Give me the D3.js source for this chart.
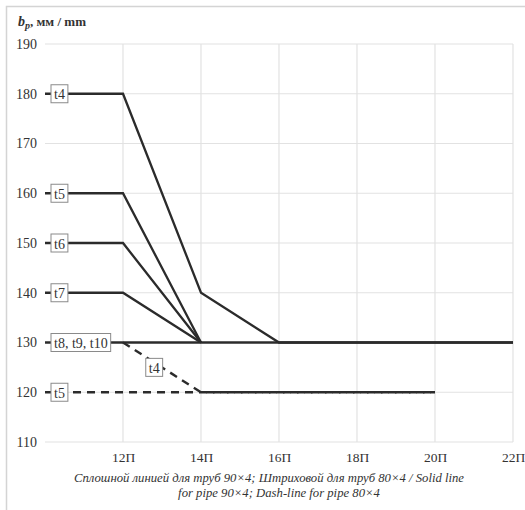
<!DOCTYPE html>
<html><head><meta charset="utf-8">
<script src="https://cdn.jsdelivr.net/npm/d3@7"></script>
<style>body{margin:0;background:#fff}svg{display:block}
svg text{font-family:"Liberation Serif","Times New Roman",serif}</style>
</head><body>
<svg id="c" width="525" height="510"></svg>
<script>
// ---- data ----
const xTickValues = [12, 14, 16, 18, 20, 22];
const xTickLabels = ["12П", "14П", "16П", "18П", "20П", "22П"];
const yTickValues = [110, 120, 130, 140, 150, 160, 170, 180, 190];

// solid series (pipe 90×4)
const t4SolidX = [10, 12, 14, 16, 22];
const t4SolidY = [180, 180, 140, 130, 130];
const t5SolidX = [10, 12, 14];
const t5SolidY = [160, 160, 130];
const t6SolidX = [10, 12, 14];
const t6SolidY = [150, 150, 130];
const t7SolidX = [10, 12, 14];
const t7SolidY = [140, 140, 130];
const t8SolidX = [10, 22];
const t8SolidY = [130, 130];
// dashed series (pipe 80×4)
const t4DashX = [12, 14, 20];
const t4DashY = [130, 120, 120];
const t5DashX = [10, 14, 20];
const t5DashY = [120, 120, 120];

const labelTexts = ["t4", "t5", "t6", "t7", "t8, t9, t10", "t4", "t5"];
const labelX = [10, 10, 10, 10, 10, 12.8, 10];
const labelY = [180, 160, 150, 140, 130, 125, 120];
const labelAnchorStart = [true, true, true, true, true, false, true];

const yTitle = "мм / mm";
const caption1 = "Сплошной линией для труб 90×4; Штриховой для труб 80×4 / Solid line";
const caption2 = "for pipe 90×4; Dash-line for pipe 80×4";

// ---- chart ----
const svg = d3.select("#c");
const L = 45, R = 513, T = 44, B = 442;
const x = d3.scaleLinear().domain([10, 22]).range([L, R]);
const y = d3.scaleLinear().domain([110, 190]).range([B, T]);
const serif = '"Liberation Serif","Times New Roman",serif';
const txtCol = "#333";

// outer border
svg.append("rect").attr("x", 6.5).attr("y", 6.5).attr("width", 540).attr("height", 540)
  .attr("fill", "none").attr("stroke", "#d4d4d4").attr("stroke-width", 1.5);

// grid
const g = svg.append("g");
g.selectAll("line.h").data(yTickValues).join("line")
  .attr("x1", L).attr("x2", R).attr("y1", d => y(d)).attr("y2", d => y(d))
  .attr("stroke", "#e2e2e2").attr("stroke-width", 1.2);
g.selectAll("line.v").data(xTickValues).join("line")
  .attr("x1", d => x(d)).attr("x2", d => x(d)).attr("y1", T).attr("y2", B)
  .attr("stroke", "#e2e2e2").attr("stroke-width", 1.2);

// axes (text only)
const yAxis = d3.axisLeft(y).tickValues(yTickValues).tickSize(0).tickPadding(8);
const ya = svg.append("g").attr("transform", `translate(${L},0)`).call(yAxis);
ya.attr("font-family", null);
ya.select(".domain").remove();
ya.selectAll("text").style("font-family", serif).attr("font-size", 14).attr("fill", txtCol);

const xAxis = d3.axisBottom(x).tickValues(xTickValues).tickFormat((d, i) => xTickLabels[i]).tickSize(0).tickPadding(10);
const xa = svg.append("g").attr("transform", `translate(0,${B})`).call(xAxis);
xa.attr("font-family", null);
xa.select(".domain").remove();
xa.selectAll("text").style("font-family", serif).attr("font-size", 13.5).attr("fill", txtCol);

// lines
const line = d3.line().x(d => x(d[0])).y(d => y(d[1]));
const zip = (a, b) => a.map((v, i) => [v, b[i]]);
const solid = [zip(t4SolidX, t4SolidY), zip(t5SolidX, t5SolidY), zip(t6SolidX, t6SolidY), zip(t7SolidX, t7SolidY), zip(t8SolidX, t8SolidY)];
const dashed = [zip(t4DashX, t4DashY), zip(t5DashX, t5DashY)];
svg.selectAll("path.s").data(solid).join("path")
  .attr("d", line).attr("fill", "none").attr("stroke", "#2b2b2b").attr("stroke-width", 2.3);
svg.selectAll("path.d").data(dashed).join("path")
  .attr("d", line).attr("fill", "none").attr("stroke", "#2b2b2b").attr("stroke-width", 2.4)
  .attr("stroke-dasharray", "8,6");

// labels
labelTexts.forEach((t, i) => {
  const lg = svg.append("g");
  const txt = lg.append("text").text(t).style("font-family", serif).attr("font-size", 14).attr("fill", txtCol)
    .attr("dominant-baseline", "central");
  const w = txt.node().getComputedTextLength();
  const padX = 3, h = 18;
  const cx = labelAnchorStart[i] ? x(labelX[i]) + 6 + (w + 2 * padX) / 2 : x(labelX[i]);
  const cy = y(labelY[i]);
  lg.insert("rect", "text").attr("x", cx - w / 2 - padX).attr("y", cy - h / 2)
    .attr("width", w + 2 * padX).attr("height", h)
    .attr("fill", "#fff").attr("stroke", "#8a8a8a").attr("stroke-width", 1);
  txt.attr("x", cx).attr("y", cy + 1).attr("text-anchor", "middle");
});

// title
const tt = svg.append("text").attr("x", 18).attr("y", 26).style("font-family", serif)
  .attr("font-size", 13).attr("font-weight", "bold").attr("fill", txtCol);
tt.append("tspan").text("b").attr("font-style", "italic").attr("font-size", 14);
tt.append("tspan").text("р").attr("font-style", "italic").attr("font-size", 10).attr("dy", 3);
tt.append("tspan").text(", " + yTitle).attr("dy", -3);

// caption
svg.append("text").attr("x", 269).attr("y", 482).attr("text-anchor", "middle").style("font-family", serif)
  .attr("font-style", "italic").attr("font-size", 12.7).attr("fill", txtCol).text(caption1);
svg.append("text").attr("x", 279).attr("y", 497).attr("text-anchor", "middle").style("font-family", serif)
  .attr("font-style", "italic").attr("font-size", 12.7).attr("fill", txtCol).text(caption2);
</script>
</body></html>
